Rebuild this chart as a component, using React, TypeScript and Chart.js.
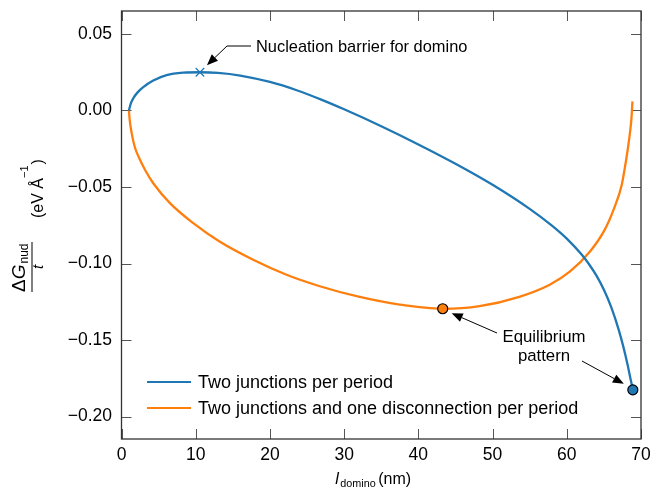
import React, { useEffect, useRef } from "react";
import { Chart, registerables } from "chart.js";

Chart.register(...registerables);

const xBlue = [1.0, 1.25, 1.59, 2.2, 2.93, 4.28, 6.08, 8.32, 10.57, 13, 16, 20, 23.6, 27, 30, 35, 40, 45, 50, 55, 58, 60, 62, 63, 64, 65, 66, 67, 67.6, 68.2, 68.6, 68.9];
const yBlue = [0, 0.0045, 0.008, 0.012, 0.0153, 0.0196, 0.0231, 0.0247, 0.025, 0.02458, 0.02285, 0.01865, 0.01325, 0.00696, 0.00078, -0.01027, -0.02215, -0.03477, -0.04852, -0.06427, -0.07522, -0.08372, -0.09412, -0.10042, -0.10792, -0.11712, -0.12862, -0.14327, -0.15392, -0.16622, -0.17562, -0.1825];

const xOrange = [1.0, 1.1, 1.37, 1.8, 2.49, 3.2, 4.28, 6.53, 9.67, 13.21, 17.74, 22.24, 26.72, 32.1, 37.5, 43.28, 48.25, 53.6, 57.7, 60.4, 63.1, 65.1, 66.4, 67.4, 68.0, 68.45, 68.7, 68.85];
const yOrange = [0, -0.006, -0.0148, -0.024, -0.0322, -0.039, -0.0475, -0.0605, -0.0736, -0.0856, -0.0975, -0.1073, -0.1148, -0.1218, -0.1268, -0.1295, -0.1278, -0.1217, -0.1138, -0.1053, -0.0923, -0.078, -0.0636, -0.0486, -0.0322, -0.017, -0.006, 0.006];

const barrierPoint = { x: 10.57, y: 0.025 };
const eqOrange = { x: 43.28, y: -0.1295 };
const eqBlue = { x: 68.9, y: -0.1825 };

const seriesLabels = ["Two junctions per period", "Two junctions and one disconnection per period"];
const xTicks = [0, 10, 20, 30, 40, 50, 60, 70];
const yTicks = [0.05, 0, -0.05, -0.1, -0.15, -0.2];

const BLUE = "#1f77b4";
const ORANGE = "#ff7f0e";
const FONT = "'Liberation Sans', Arial, sans-serif";

function arrow(ctx: CanvasRenderingContext2D, pts: number[][]) {
  ctx.save();
  ctx.strokeStyle = "#000";
  ctx.fillStyle = "#000";
  ctx.lineWidth = 1;
  const n = pts.length;
  const [tx, ty] = pts[n - 1];
  const [px, py] = pts[n - 2];
  const ang = Math.atan2(ty - py, tx - px);
  const hl = 11, hw = 4.5;
  const bx = tx - hl * Math.cos(ang), by = ty - hl * Math.sin(ang);
  ctx.beginPath();
  ctx.moveTo(pts[0][0], pts[0][1]);
  for (let i = 1; i < n - 1; i++) ctx.lineTo(pts[i][0], pts[i][1]);
  ctx.lineTo(bx, by);
  ctx.stroke();
  ctx.beginPath();
  ctx.moveTo(tx, ty);
  ctx.lineTo(bx + hw * Math.sin(ang), by - hw * Math.cos(ang));
  ctx.lineTo(bx - hw * Math.sin(ang), by + hw * Math.cos(ang));
  ctx.closePath();
  ctx.fill();
  ctx.restore();
}

const zeroPad = (s: any) => {
  s.paddingLeft = 0; s.paddingRight = 0; s.paddingTop = 0; s.paddingBottom = 0;
};

const decorPlugin = {
  id: "decor",
  beforeDatasetsDraw(chart: any) {
    const ctx = chart.ctx as CanvasRenderingContext2D;
    const { left, right, top, bottom } = chart.chartArea;
    const xs = chart.scales.x, ys = chart.scales.y;
    ctx.save();
    ctx.strokeStyle = "#555";
    ctx.lineWidth = 1;
    const tl = 10;
    ctx.beginPath();
    xTicks.forEach((t) => {
      const p = Math.round(xs.getPixelForValue(t)) + 0.5;
      ctx.moveTo(p, bottom); ctx.lineTo(p, bottom - tl);
      ctx.moveTo(p, top); ctx.lineTo(p, top + tl);
    });
    yTicks.forEach((t) => {
      const p = Math.round(ys.getPixelForValue(t)) + 0.5;
      ctx.moveTo(left, p); ctx.lineTo(left + tl, p);
      ctx.moveTo(right, p); ctx.lineTo(right - tl, p);
    });
    ctx.stroke();
    ctx.strokeStyle = "#333";
    ctx.lineWidth = 1.3;
    ctx.strokeRect(left, top, right - left, bottom - top);
    ctx.restore();
  },
  afterDraw(chart: any) {
    const ctx = chart.ctx as CanvasRenderingContext2D;
    const xs = chart.scales.x, ys = chart.scales.y;
    const { left, right } = chart.chartArea;
    ctx.save();
    ctx.fillStyle = "#000";
    ctx.textBaseline = "alphabetic";

    // legend
    const lines = [382, 408];
    const colors = [BLUE, ORANGE];
    lines.forEach((ly, i) => {
      ctx.strokeStyle = colors[i];
      ctx.lineWidth = 2;
      ctx.beginPath();
      ctx.moveTo(147, ly); ctx.lineTo(191, ly);
      ctx.stroke();
      ctx.font = `18px ${FONT}`;
      ctx.textBaseline = "middle";
      ctx.fillText(chart.data.datasets[3 + i].label, 198, ly + 1);
    });
    ctx.textBaseline = "alphabetic";

    // annotation: nucleation
    const bx = xs.getPixelForValue(barrierPoint.x), by = ys.getPixelForValue(barrierPoint.y);
    ctx.font = `16.4px ${FONT}`;
    ctx.fillText("Nucleation barrier for domino", 256, 52);
    arrow(ctx, [[251, 46], [227, 46], [bx + 7, by - 7]]);

    // annotation: equilibrium
    const ox = xs.getPixelForValue(eqOrange.x), oy = ys.getPixelForValue(eqOrange.y);
    const qx = xs.getPixelForValue(eqBlue.x), qy = ys.getPixelForValue(eqBlue.y);
    ctx.textAlign = "center";
    ctx.font = `16.8px ${FONT}`;
    ctx.fillText("Equilibrium", 544, 342);
    ctx.fillText("pattern", 544, 361);
    ctx.textAlign = "left";
    arrow(ctx, [[497, 333], [ox + 9, oy + 4.5]]);
    arrow(ctx, [[582, 361], [qx - 9, qy - 6]]);

    // x title
    const cx = (left + right) / 2 - 46;
    ctx.font = `italic 16px ${FONT}`;
    ctx.fillText("l", cx, 484);
    ctx.font = `10.8px ${FONT}`;
    ctx.fillText("domino", cx + 5, 487);
    ctx.font = `16px ${FONT}`;
    ctx.fillText("(nm)", cx + 43, 484);

    // y title
    ctx.translate(0, 292);
    ctx.rotate(-Math.PI / 2);
    ctx.font = `19px ${FONT}`;
    ctx.fillText("Δ", 0, 25);
    const w1 = ctx.measureText("Δ").width;
    ctx.font = `italic 19px ${FONT}`;
    ctx.fillText("G", w1, 25);
    const w2 = ctx.measureText("G").width;
    ctx.font = `12px ${FONT}`;
    ctx.fillText("nud", w1 + w2 + 1, 28);
    ctx.fillRect(0, 31.5, 50, 1);
    ctx.textAlign = "center";
    ctx.font = `italic 15px ${FONT}`;
    ctx.fillText("t", 25, 43);
    ctx.textAlign = "left";
    ctx.font = `16px ${FONT}`;
    let u = 74;
    ctx.fillText("(eV Å", u, 43);
    u += ctx.measureText("(eV Å").width;
    ctx.font = `11px ${FONT}`;
    ctx.fillText("−1", u, 28);
    u += ctx.measureText("−1").width + 1;
    ctx.font = `16px ${FONT}`;
    ctx.fillText(")", u, 43);
    ctx.restore();
  },
};

export default function App() {
  const ref = useRef<HTMLCanvasElement>(null);
  useEffect(() => {
    if (!ref.current) return;
    const chart = new Chart(ref.current, {
      type: "line",
      data: {
        datasets: [
          {
            label: "barrier",
            data: [barrierPoint],
            showLine: false,
            pointStyle: "crossRot",
            pointRadius: 6,
            borderColor: BLUE,
            borderWidth: 1.2,
            order: 0,
          },
          {
            label: "eqOrange",
            data: [eqOrange],
            showLine: false,
            pointStyle: "circle",
            pointRadius: 5,
            backgroundColor: ORANGE,
            borderColor: "#000",
            borderWidth: 1.2,
            order: 0,
          },
          {
            label: "eqBlue",
            data: [eqBlue],
            showLine: false,
            pointStyle: "circle",
            pointRadius: 5,
            backgroundColor: BLUE,
            borderColor: "#000",
            borderWidth: 1.2,
            order: 0,
          },
          {
            label: seriesLabels[0],
            data: xBlue.map((x, i) => ({ x, y: yBlue[i] })),
            borderColor: BLUE,
            borderWidth: 2.3,
            pointRadius: 0,
            cubicInterpolationMode: "monotone",
            order: 1,
          },
          {
            label: seriesLabels[1],
            data: xOrange.map((x, i) => ({ x, y: yOrange[i] })),
            borderColor: ORANGE,
            borderWidth: 2.3,
            pointRadius: 0,
            cubicInterpolationMode: "monotone",
            order: 1,
          },
        ],
      },
      options: {
        animation: false,
        responsive: false,
        layout: { padding: { top: 11, right: 11, left: 0, bottom: 0 } },
        plugins: { legend: { display: false }, tooltip: { enabled: false } },
        scales: {
          x: {
            type: "linear",
            min: 0,
            max: 70,
            afterFit: (s: any) => { s.height = 63; zeroPad(s); },
            ticks: { stepSize: 10, color: "#000", font: { family: FONT, size: 17.5 }, padding: 6, maxRotation: 0 },
            grid: { display: true, drawOnChartArea: false, drawTicks: false },
            border: { display: false },
          },
          y: {
            type: "linear",
            min: -0.2146,
            max: 0.065,
            afterFit: (s: any) => { s.width = 121.5; zeroPad(s); },
            ticks: {
              stepSize: 0.05,
              includeBounds: false,
              color: "#000",
              font: { family: FONT, size: 17.5 },
              padding: 9.5,
              callback: (v: any) => {
                const n = Math.abs(v) < 1e-9 ? 0 : Number(v);
                return n.toFixed(2).replace("-", "\u2212");
              },
            },
            grid: { display: true, drawOnChartArea: false, drawTicks: false },
            border: { display: false },
          },
        },
      },
      plugins: [decorPlugin],
    } as any);
    return () => chart.destroy();
  }, []);
  return (
    <div style={{ position: "absolute", left: 0, top: 0, width: 652, height: 502 }}>
      <canvas ref={ref} width={652} height={502} />
    </div>
  );
}
